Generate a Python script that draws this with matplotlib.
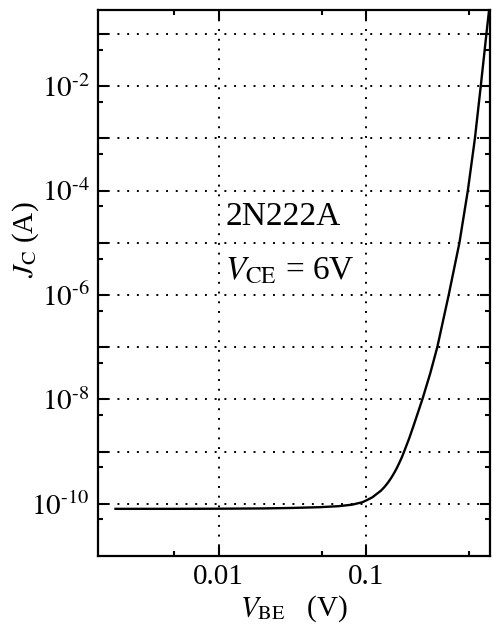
from matplotlib import pyplot as plt
from matplotlib import ticker
import numpy as np

plt.rcParams['font.family'] = ['Liberation Serif', 'DejaVu Serif']
plt.rcParams['mathtext.fontset'] = 'stix'

# J_C vs V_BE
v_be = [0.002, 0.005, 0.01, 0.02, 0.03, 0.048, 0.065, 0.08, 0.094, 0.1,
        0.11, 0.1257, 0.133, 0.14, 0.147, 0.1545, 0.160, 0.167, 0.174, 0.1806,
        0.195, 0.2095, 0.240, 0.2715, 0.303, 0.362, 0.428, 0.488, 0.545, 0.597,
        0.652, 0.68]
j_c = [8.0e-11, 8.0e-11, 8.05e-11, 8.15e-11, 8.3e-11, 8.6e-11, 9.0e-11, 9.6e-11,
       1.07e-10, 1.16e-10, 1.33e-10, 1.78e-10, 2.1e-10, 2.52e-10, 3.07e-10,
       3.88e-10, 4.65e-10, 5.96e-10, 7.69e-10, 1.0e-9, 1.76e-9, 3.16e-9, 1.0e-8,
       3.16e-8, 1.0e-7, 1.0e-6, 1.0e-5, 1.0e-4, 1.0e-3, 1.0e-2, 1.0e-1, 0.29]

x_major = [0.01, 0.1]
x_labels = ['0.01', '0.1']
y_major = [1e-10, 1e-9, 1e-8, 1e-7, 1e-6, 1e-5, 1e-4, 1e-3, 1e-2, 1e-1]

fig = plt.figure(figsize=(4.92, 6.24), dpi=100)
ax = fig.add_axes([0.199, 0.109, 0.797, 0.875])

ax.plot(v_be, j_c, color='black', lw=1.7, zorder=3)

ax.set_xscale('log')
ax.set_yscale('log')
ax.set_xlim(0.00152, 0.69)
ax.set_ylim(1e-11, 10 ** -0.54)

ax.xaxis.set_major_locator(ticker.FixedLocator(x_major))
ax.xaxis.set_major_formatter(ticker.FixedFormatter(x_labels))
ax.xaxis.set_minor_locator(ticker.LogLocator(base=10, subs=[5], numticks=20))
ax.xaxis.set_minor_formatter(ticker.NullFormatter())

def ylab(v, pos):
    e = int(round(np.log10(v)))
    if e % 2:
        return ''
    return '$10^{\u2010%d}$' % abs(e)

ax.yaxis.set_major_locator(ticker.FixedLocator(y_major))
ax.yaxis.set_major_formatter(ticker.FuncFormatter(ylab))
ax.yaxis.set_minor_locator(ticker.LogLocator(base=10, subs=[5], numticks=20))
ax.yaxis.set_minor_formatter(ticker.NullFormatter())

ax.grid(True, which='major', color='black', linestyle=(0, (1, 4)), lw=1.4)

ax.tick_params(which='both', direction='in', top=True, right=True, width=1.5,
               labelsize=21, color='black')
ax.tick_params(which='major', length=7, pad=6)
ax.tick_params(which='minor', length=3.5)
for s in ax.spines.values():
    s.set_linewidth(1.6)

ax.set_xlabel(r'$V_{\rm BE}$   (V)', fontsize=21, labelpad=2)
ax.set_ylabel(r'$J_{\rm C}$ (A)', fontsize=21)
ax.yaxis.set_label_coords(-0.145, 0.579)

ax.text(0.0111, 10 ** -4.5, '2N222A', fontsize=24, va='center')
ax.text(0.0111, 10 ** -5.55, r'$V_{\rm CE}$ = 6V', fontsize=24, va='center')

plt.savefig('out.png', dpi=100)
